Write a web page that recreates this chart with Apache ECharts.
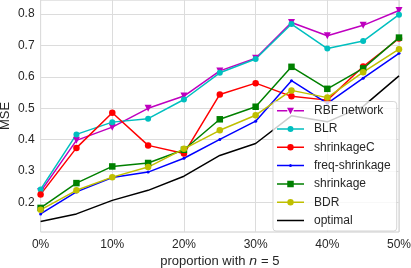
<!DOCTYPE html>
<html><head><meta charset="utf-8">
<script src="https://cdn.jsdelivr.net/npm/echarts@6/dist/echarts.min.js"></script>
<style>html,body{margin:0;padding:0;background:#fff}#c{width:411px;height:268px}</style>
</head><body><div id="c"></div>
<script>
const proportions = [0, 5, 10, 15, 20, 25, 30, 35, 40, 45, 50];
const rbfNetwork   = [0.235, 0.398, 0.440, 0.500, 0.539, 0.619, 0.659, 0.773, 0.731, 0.764, 0.811];
const blr          = [0.242, 0.417, 0.456, 0.467, 0.528, 0.613, 0.657, 0.768, 0.690, 0.714, 0.798];
const shrinkageC   = [0.226, 0.374, 0.486, 0.382, 0.356, 0.544, 0.580, 0.538, 0.526, 0.633, 0.722];
const freqShrink   = [0.164, 0.234, 0.280, 0.297, 0.341, 0.401, 0.459, 0.588, 0.516, 0.596, 0.675];
const shrinkage    = [0.183, 0.262, 0.315, 0.326, 0.368, 0.465, 0.505, 0.632, 0.562, 0.627, 0.725];
const bdr          = [0.177, 0.239, 0.281, 0.313, 0.371, 0.430, 0.478, 0.557, 0.534, 0.615, 0.688];
const optimal      = [0.140, 0.164, 0.207, 0.239, 0.284, 0.350, 0.388, 0.476, 0.457, 0.506, 0.603];
const yTicks = [0.2, 0.3, 0.4, 0.5, 0.6, 0.7, 0.8];
const seriesNames = ['RBF network','BLR','shrinkageC','freq-shrinkage','shrinkage','BDR','optimal'];

const FONT = '"Liberation Sans", Arial, sans-serif';
function pairs(arr){ return proportions.map((x,i)=>[x, arr[i]]); }
function mk(name, data, color, symbol, size, rotate){
  return {
    name, type:'line', data: pairs(data), color,
    symbol: symbol || 'none', symbolSize: size || 0, symbolRotate: rotate || 0,
    showSymbol: !!symbol,
    lineStyle:{width:1.5, color},
    itemStyle:{color, borderWidth:0},
    emphasis:{disabled:true}, animation:false
  };
}
// legend icons: 27x8 box, line + marker
const W = 27, H = 8, CX = 13.5, CY = 4, LT = 0.75;
const corners = 'M0,0h0.01v0.01h-0.01z M26.99,7.99h0.01v0.01h-0.01z ';
function bar(x0, x1){ return 'M'+x0+','+(CY-LT)+'H'+x1+'V'+(CY+LT)+'H'+x0+'Z '; }
function circleIcon(r){
  return 'path://' + corners + bar(0, CX-r+0.3) + bar(CX+r-0.3, W) +
    'M'+(CX-r)+','+CY+'A'+r+','+r+' 0 1 1 '+(CX+r)+','+CY+'A'+r+','+r+' 0 1 1 '+(CX-r)+','+CY+'Z';
}
function squareIcon(s){
  return 'path://' + corners + bar(0, CX-s/2+0.3) + bar(CX+s/2-0.3, W) +
    'M'+(CX-s/2)+','+(CY-s/2)+'H'+(CX+s/2)+'V'+(CY+s/2)+'H'+(CX-s/2)+'Z';
}
function triDownIcon(s){
  return 'path://' + corners + bar(0, CX-s/2+0.3) + bar(CX+s/2-0.3, W) +
    'M'+(CX-s/2)+','+(CY-s/2+0.5)+'H'+(CX+s/2)+'L'+CX+','+(CY+s/2)+'Z';
}
function lineIcon(){ return 'path://' + corners + bar(0, W); }
const legendIcons = [triDownIcon(7), circleIcon(3), circleIcon(3.2), circleIcon(1.5), squareIcon(6.5), circleIcon(3.2), lineIcon()];

const chart = echarts.init(document.getElementById('c'), null, {renderer:'canvas'});
chart.setOption({
  animation:false,
  backgroundColor:'#fff',
  grid:{left:40.6, right:12, top:0, bottom:36, outerBoundsMode:'none', containLabel:false,
        show:true, borderColor:'#cccccc', borderWidth:1, backgroundColor:'transparent'},
  xAxis:{
    type:'value', min:0, max:50, interval:10,
    axisLine:{show:false}, axisTick:{show:false},
    axisLabel:{formatter:'{value}%', color:'#262626', fontSize:12, fontFamily:FONT, margin:7},
    splitLine:{show:true, lineStyle:{color:'#dcdcdc', width:1}},
    name:'proportion with {i|n} = 5', nameLocation:'middle', nameGap:23, nameMoveOverlap:false,
    nameTextStyle:{color:'#262626', fontSize:13, fontFamily:FONT, rich:{i:{fontStyle:'italic', fontSize:13, fontFamily:'"DejaVu Sans", sans-serif', color:'#262626'}}}
  },
  yAxis:{
    type:'value', min:0.1064, max:0.8446,
    axisLine:{show:false},
    axisTick:{show:false, customValues:yTicks},
    axisLabel:{customValues:yTicks, formatter:v=>v.toFixed(1), color:'#262626', fontSize:12, fontFamily:FONT, margin:6},
    splitLine:{show:true, lineStyle:{color:'#dcdcdc', width:1}},
    name:'MSE', nameLocation:'middle', nameGap:29, nameMoveOverlap:false,
    nameTextStyle:{color:'#262626', fontSize:13, fontFamily:FONT}
  },
  legend:{
    orient:'vertical', left:273, top:101.5,
    itemWidth:W, itemHeight:H, itemGap:6.3,
    padding:[3.2,6,4.5,4],
    backgroundColor:'rgba(255,255,255,0.8)',
    borderColor:'rgba(204,204,204,0.8)', borderWidth:1, borderRadius:3,
    itemStyle:{borderWidth:0},
    textStyle:{color:'#262626', fontSize:12, lineHeight:12, fontFamily:FONT, padding:[0,0,0,5]},
    data: seriesNames.map((n,i)=>({name:n, icon:legendIcons[i]}))
  },
  series:[
    mk(seriesNames[0], rbfNetwork, '#bf00bf', 'triangle', 7, 180),
    mk(seriesNames[1], blr, '#00bfbf', 'circle', 6),
    mk(seriesNames[2], shrinkageC, '#ff0000', 'circle', 6.5),
    mk(seriesNames[3], freqShrink, '#0000ff', 'circle', 3),
    mk(seriesNames[4], shrinkage, '#008000', 'rect', 6.5),
    mk(seriesNames[5], bdr, '#bfbf00', 'circle', 6.5),
    mk(seriesNames[6], optimal, '#000000', null, 0)
  ]
});
</script></body></html>
